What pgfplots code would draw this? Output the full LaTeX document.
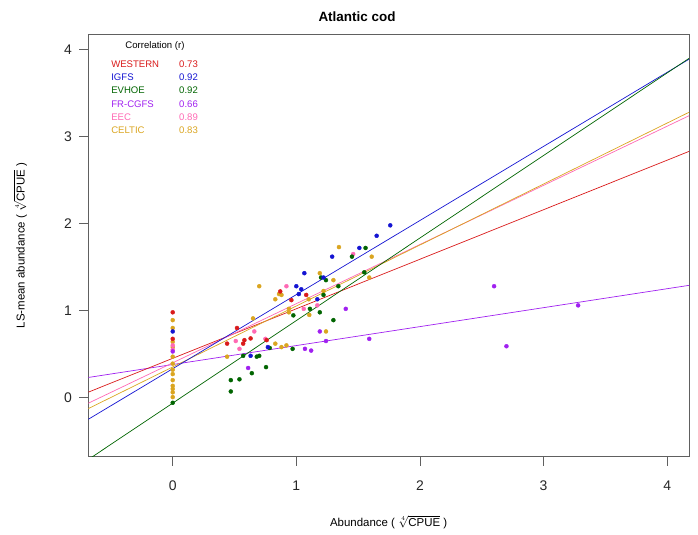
\documentclass[border=0pt]{standalone}
\usepackage{pgfplots}
\pgfplotsset{compat=1.18}
\usepackage{fontspec}
\setmainfont{Liberation Sans}
\definecolor{cwest}{HTML}{D91A1A}
\definecolor{cigfs}{HTML}{1414D2}
\definecolor{cevhoe}{HTML}{006400}
\definecolor{cfr}{HTML}{A020F0}
\definecolor{ceec}{HTML}{FF69B4}
\definecolor{ccelt}{HTML}{DAA520}
\begin{document}
\begin{tikzpicture}
\begin{axis}[
  scale only axis, width=600.7bp, height=422.7bp,
  xmin=-0.683, xmax=4.177, ymin=-0.68, ymax=4.18,
  axis line style={draw=gray!75!black, line width=0.8pt},
  xtick={0,1,2,3,4}, ytick={0,1,2,3,4},
  tick align=outside, xtick pos=bottom, ytick pos=left,
  major tick length=9bp,
  tick style={gray!75!black, line width=0.8pt},
  ticklabel style={font=\fontsize{14}{16}\selectfont, text=black!85},
  /pgf/number format/assume math mode=true,
  xticklabel style={yshift=-12bp},
  yticklabel style={xshift=-4bp},
  every axis x label/.style={at={(axis description cs:0.5,-0.1545)}, anchor=center},
  every axis y label/.style={at={(axis description cs:-0.1129,0.5)}, rotate=90, anchor=center},
  label style={font=\fontsize{11.5}{13}\selectfont},
  xlabel={Abundance ( $\sqrt[4]{\mbox{CPUE}}$ )},
  ylabel={LS-mean abundance ( $\sqrt[4]{\mbox{CPUE}}$ )},
  clip=true,
]
% regression lines
\addplot[cfr, line width=0.7pt] coordinates {(-0.683,0.231) (4.177,1.29)};
\addplot[cwest, line width=0.7pt] coordinates {(-0.683,0.062) (4.177,2.83)};
\addplot[ceec, line width=0.7pt] coordinates {(-0.683,-0.065) (4.177,3.24)};
\addplot[ccelt, line width=0.7pt] coordinates {(-0.683,-0.127) (4.177,3.28)};
\addplot[cigfs, line width=0.7pt] coordinates {(-0.683,-0.25) (4.177,3.89)};
\addplot[cevhoe, line width=0.7pt] coordinates {(-0.683,-0.712) (4.177,3.90)};
% points
\addplot[only marks, mark=*, mark size=2bp, ccelt] coordinates {
(0,0.89)(0,0.80)(0,0.64)(0,0.58)(0,0.47)(0,0.39)(0,0.32)(0,0.27)(0,0.20)(0,0.135)(0,0.10)(0,0.06)(0,0.005)
(0.44,0.47)(0.65,0.91)(0.70,1.28)(0.83,1.13)(0.86,1.19)(0.88,1.18)(0.83,0.62)(0.88,0.58)(0.92,0.60)
(0.94,0.98)(0.94,1.02)(1.105,0.95)(1.10,1.13)(1.19,1.43)(1.22,1.225)(1.30,1.35)(1.24,0.76)(1.345,1.73)(1.61,1.62)(1.59,1.38)};
\addplot[only marks, mark=*, mark size=2bp, ceec] coordinates {
(0,0.60)(0,0.55)(0.51,0.65)(0.54,0.56)(0.66,0.76)(0.75,0.675)(0.92,1.28)(1.06,1.02)(1.17,1.06)(1.46,1.65)};
\addplot[only marks, mark=*, mark size=2bp, cfr] coordinates {
(0,0.53)(0.61,0.34)(1.07,0.56)(1.12,0.54)(1.19,0.76)(1.24,0.65)(1.40,1.02)(1.59,0.675)(2.60,1.28)(2.70,0.59)(3.28,1.06)};
\addplot[only marks, mark=*, mark size=2bp, cevhoe] coordinates {
(0,-0.06)(0.47,0.07)(0.47,0.20)(0.54,0.21)(0.64,0.28)(0.57,0.48)(0.68,0.47)(0.70,0.48)(0.755,0.35)(0.785,0.57)
(0.97,0.56)(0.976,0.945)(1.11,1.02)(1.19,0.98)(1.30,0.89)(1.22,1.18)(1.20,1.38)(1.24,1.35)(1.34,1.28)(1.45,1.62)(1.56,1.72)(1.55,1.44)};
\addplot[only marks, mark=*, mark size=2bp, cigfs] coordinates {
(0,0.76)(0.77,0.58)(0.63,0.48)(1.00,1.28)(1.02,1.19)(1.04,1.245)(1.065,1.43)(1.17,1.13)(1.22,1.38)(1.29,1.62)(1.51,1.72)(1.65,1.86)(1.76,1.98)};
\addplot[only marks, mark=*, mark size=2bp, cwest] coordinates {
(0,0.98)(0,0.675)(0.52,0.80)(0.44,0.62)(0.57,0.62)(0.58,0.66)(0.63,0.68)(0.76,0.66)(0.87,1.22)(0.96,1.12)(1.08,1.18)};
% legend text
\begin{scope}[every node/.style={font=\fontsize{9.6}{11}\selectfont, inner sep=0pt}]
\node[anchor=center] at (rel axis cs:0.111,0.971) {Correlation (r)};
\node[anchor=west, text=cwest] at (rel axis cs:0.038,0.928) {WESTERN};
\node[anchor=west, text=cwest] at (rel axis cs:0.151,0.928) {0.73};
\node[anchor=west, text=cigfs] at (rel axis cs:0.038,0.897) {IGFS};
\node[anchor=west, text=cigfs] at (rel axis cs:0.151,0.897) {0.92};
\node[anchor=west, text=cevhoe] at (rel axis cs:0.038,0.866) {EVHOE};
\node[anchor=west, text=cevhoe] at (rel axis cs:0.151,0.866) {0.92};
\node[anchor=west, text=cfr] at (rel axis cs:0.038,0.834) {FR-CGFS};
\node[anchor=west, text=cfr] at (rel axis cs:0.151,0.834) {0.66};
\node[anchor=west, text=ceec] at (rel axis cs:0.038,0.803) {EEC};
\node[anchor=west, text=ceec] at (rel axis cs:0.151,0.803) {0.89};
\node[anchor=west, text=ccelt] at (rel axis cs:0.038,0.772) {CELTIC};
\node[anchor=west, text=ccelt] at (rel axis cs:0.151,0.772) {0.83};
\end{scope}
\end{axis}
\node[font=\bfseries\fontsize{13.5}{15}\selectfont] at ([xshift=268.7bp,yshift=17bp]current axis.north west) {Atlantic cod};
\pgfresetboundingbox
\path[use as bounding box] ([xshift=-88.3bp,yshift=-78.3bp]current axis.south west) rectangle ([xshift=9bp,yshift=34bp]current axis.north east);
\end{tikzpicture}
\end{document}
